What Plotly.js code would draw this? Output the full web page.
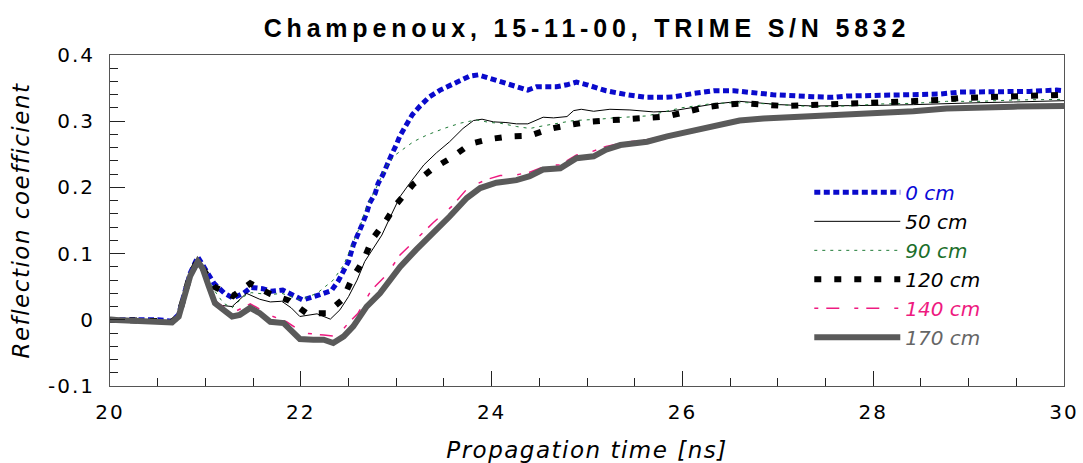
<!DOCTYPE html>
<html>
<head>
<meta charset="utf-8">
<script src="https://cdn.plot.ly/plotly-3.0.1.min.js"></script>
<style>
  html, body { margin: 0; padding: 0; background: #fff; }
  #chart { width: 1083px; height: 463px; }
  .gtitle { letter-spacing: 4.8px; }
  .xtitle, .ytitle { letter-spacing: 1.5px; }
  .xtick text, .ytick text { letter-spacing: 2px; }
</style>
</head>
<body>
<div id="chart"></div>
<script>
// ---- data ----
var seriesNames = ['0 cm', '50 cm', '90 cm', '120 cm', '140 cm', '170 cm'];

var t0 = [20, 20.3, 20.5, 20.65, 20.72, 20.78, 20.84, 20.92, 20.98, 21.09, 21.2, 21.29, 21.4, 21.48, 21.6, 21.69, 21.81, 21.9, 22.02, 22.2, 22.32, 22.39, 22.44, 22.5, 22.55, 22.6, 22.64, 22.69, 22.72, 22.78, 22.81, 22.86, 22.9, 22.95, 23.0, 23.04, 23.1, 23.17, 23.25, 23.35, 23.46, 23.55, 23.66, 23.77, 23.86, 23.97, 24.07, 24.17, 24.28, 24.38, 24.47, 24.59, 24.68, 24.79, 24.89, 25.0, 25.2, 25.42, 25.63, 25.82, 25.92, 26.12, 26.33, 26.54, 26.74, 26.95, 27.37, 27.58, 27.72, 28.07, 28.42, 28.7, 28.91, 29.3, 29.64, 29.92, 30];
var r0 = [0, 0.001, 0, -0.002, 0.008, 0.04, 0.07, 0.095, 0.08, 0.055, 0.040, 0.033, 0.040, 0.049, 0.047, 0.043, 0.045, 0.038, 0.030, 0.038, 0.044, 0.058, 0.073, 0.088, 0.113, 0.128, 0.143, 0.161, 0.176, 0.191, 0.206, 0.219, 0.234, 0.249, 0.264, 0.278, 0.293, 0.310, 0.323, 0.337, 0.347, 0.353, 0.360, 0.368, 0.370, 0.365, 0.360, 0.356, 0.350, 0.347, 0.352, 0.352, 0.352, 0.355, 0.359, 0.355, 0.346, 0.340, 0.336, 0.336, 0.337, 0.342, 0.346, 0.346, 0.343, 0.340, 0.337, 0.336, 0.338, 0.339, 0.339, 0.341, 0.344, 0.344, 0.345, 0.347, 0.346];

var t50 = [20, 20.3, 20.5, 20.65, 20.72, 20.78, 20.84, 20.92, 20.98, 21.08, 21.15, 21.28, 21.43, 21.57, 21.68, 21.8, 21.9, 21.99, 22.17, 22.31, 22.41, 22.5, 22.59, 22.67, 22.76, 22.85, 22.94, 23.04, 23.14, 23.29, 23.42, 23.56, 23.7, 23.81, 23.9, 24.02, 24.15, 24.26, 24.38, 24.47, 24.54, 24.65, 24.79, 24.86, 24.94, 25.07, 25.24, 25.45, 25.7, 25.87, 26.08, 26.33, 26.6, 26.74, 27.02, 27.37, 27.72, 28.07, 28.42, 28.77, 29.12, 29.47, 30];
var r50 = [0, 0, -0.002, -0.003, 0.006, 0.037, 0.068, 0.09, 0.075, 0.035, 0.022, 0.020, 0.040, 0.031, 0.027, 0.028, 0.018, 0.005, 0.009, 0.001, 0.015, 0.035, 0.060, 0.088, 0.108, 0.128, 0.156, 0.186, 0.206, 0.234, 0.252, 0.269, 0.289, 0.301, 0.303, 0.299, 0.298, 0.296, 0.296, 0.302, 0.306, 0.305, 0.307, 0.316, 0.318, 0.315, 0.318, 0.317, 0.314, 0.315, 0.320, 0.326, 0.330, 0.328, 0.325, 0.323, 0.323, 0.324, 0.325, 0.327, 0.328, 0.329, 0.331];

var t90 = [20, 20.3, 20.5, 20.65, 20.72, 20.78, 20.84, 20.92, 20.98, 21.09, 21.19, 21.28, 21.4, 21.48, 21.68, 21.8, 21.92, 21.99, 22.17, 22.34, 22.45, 22.53, 22.62, 22.69, 22.78, 22.87, 22.92, 22.99, 23.08, 23.18, 23.32, 23.5, 23.67, 23.84, 23.98, 24.09, 24.26, 24.4, 24.54, 24.68, 24.86, 25.13, 25.28, 25.63, 25.98, 26.33, 26.67, 27.02, 27.37, 27.72, 28.07, 28.42, 28.77, 29.12, 29.47, 30];
var r90 = [0, 0, -0.002, -0.003, 0.007, 0.038, 0.069, 0.092, 0.078, 0.045, 0.025, 0.018, 0.035, 0.041, 0.038, 0.040, 0.033, 0.030, 0.040, 0.060, 0.083, 0.111, 0.141, 0.171, 0.196, 0.224, 0.237, 0.249, 0.259, 0.269, 0.279, 0.289, 0.297, 0.302, 0.298, 0.297, 0.292, 0.289, 0.293, 0.297, 0.301, 0.303, 0.305, 0.308, 0.320, 0.327, 0.328, 0.325, 0.322, 0.323, 0.326, 0.327, 0.330, 0.330, 0.332, 0.333];

var t120 = [20, 20.3, 20.5, 20.65, 20.72, 20.78, 20.84, 20.92, 20.98, 21.09, 21.29, 21.47, 21.68, 21.88, 22.06, 22.27, 22.44, 22.53, 22.66, 22.75, 22.88, 23.01, 23.18, 23.38, 23.58, 23.78, 23.98, 24.19, 24.4, 24.6, 24.8, 25.01, 25.2, 25.42, 25.63, 25.83, 26.04, 26.24, 26.45, 26.66, 26.85, 27.06, 27.27, 27.48, 27.69, 27.88, 28.09, 28.3, 28.5, 28.7, 28.91, 29.12, 29.34, 29.54, 29.73, 30];
var r120 = [0, 0, -0.002, -0.003, 0.006, 0.037, 0.068, 0.09, 0.076, 0.050, 0.036, 0.055, 0.039, 0.029, 0.010, 0.010, 0.031, 0.060, 0.091, 0.122, 0.147, 0.176, 0.205, 0.228, 0.245, 0.266, 0.273, 0.277, 0.278, 0.288, 0.294, 0.299, 0.301, 0.302, 0.305, 0.307, 0.314, 0.321, 0.325, 0.327, 0.325, 0.323, 0.324, 0.325, 0.327, 0.327, 0.329, 0.329, 0.331, 0.332, 0.335, 0.336, 0.338, 0.339, 0.338, 0.340];

var t140 = [20, 20.3, 20.5, 20.65, 20.72, 20.78, 20.84, 20.92, 20.97, 21.03, 21.1, 21.19, 21.29, 21.47, 21.64, 21.71, 21.85, 22.03, 22.24, 22.38, 22.48, 22.6, 22.74, 22.9, 23.04, 23.21, 23.39, 23.58, 23.75, 23.95, 24.09, 24.26, 24.4, 24.58, 24.72, 24.89, 25.03, 25.2, 25.45, 25.63, 25.84, 26.08, 26.26, 26.39, 26.6, 26.85, 27.2, 27.58, 28.07, 28.42, 28.77, 29.12, 29.47, 30];
var r140 = [0, 0, -0.003, -0.004, 0.005, 0.035, 0.066, 0.089, 0.078, 0.053, 0.028, 0.020, 0.011, 0.024, 0.010, 0.005, -0.003, -0.020, -0.023, -0.025, -0.008, 0.010, 0.045, 0.068, 0.098, 0.122, 0.147, 0.171, 0.199, 0.212, 0.218, 0.219, 0.223, 0.233, 0.234, 0.249, 0.253, 0.262, 0.269, 0.272, 0.279, 0.286, 0.292, 0.297, 0.303, 0.306, 0.308, 0.310, 0.313, 0.317, 0.321, 0.323, 0.324, 0.325];

var t170 = [20, 20.2, 20.5, 20.65, 20.72, 20.78, 20.84, 20.92, 20.97, 21.03, 21.1, 21.19, 21.28, 21.36, 21.47, 21.57, 21.68, 21.82, 21.9, 21.99, 22.13, 22.24, 22.34, 22.45, 22.55, 22.69, 22.83, 23.04, 23.21, 23.39, 23.56, 23.74, 23.88, 24.05, 24.26, 24.4, 24.54, 24.72, 24.89, 25.07, 25.2, 25.35, 25.63, 25.84, 26.08, 26.26, 26.39, 26.6, 26.85, 27.2, 27.58, 28.07, 28.42, 28.77, 29.12, 29.47, 30];
var r170 = [0, -0.001, -0.004, -0.004, 0.005, 0.035, 0.066, 0.088, 0.078, 0.053, 0.025, 0.015, 0.005, 0.0075, 0.018, 0.010, -0.003, -0.005, -0.015, -0.029, -0.030, -0.030, -0.035, -0.025, -0.010, 0.020, 0.040, 0.080, 0.106, 0.131, 0.156, 0.184, 0.199, 0.207, 0.211, 0.217, 0.227, 0.229, 0.244, 0.247, 0.257, 0.264, 0.269, 0.277, 0.284, 0.290, 0.295, 0.301, 0.304, 0.306, 0.308, 0.311, 0.315, 0.319, 0.321, 0.322, 0.323];

var yTickVals = [-0.1, 0, 0.1, 0.2, 0.3, 0.4];
var yTickText = ['-0.1', '0', '0.1', '0.2', '0.3', '0.4'];

// ---- styles ----
var FONT = 'Liberation Sans, Arial, Helvetica, sans-serif';
var WIDE = 'DejaVu Sans, Verdana, sans-serif';
var styles = [
  {color: '#0a0acc', text: '#0a0ad8', width: 5,   dash: '6px,3.5px'},
  {color: '#000000', text: '#000000', width: 1,   dash: 'solid'},
  {color: '#1e7a35', text: '#1a6e2a', width: 1,   dash: '3px,5px'},
  {color: '#000000', text: '#000000', width: 6,   dash: '7px,13px'},
  {color: '#ee1a80', text: '#ee1a80', width: 1.5, dash: '4px,8px,13px,15px'},
  {color: '#5a5a5a', text: '#666666', width: 6,   dash: 'solid'}
];
var xs = [t0, t50, t90, t120, t140, t170];
var ys = [r0, r50, r90, r120, r140, r170];

var traces = seriesNames.map(function (n, i) {
  return {
    type: 'scatter', mode: 'lines',
    x: xs[i], y: ys[i],
    name: '<span style="color:' + styles[i].text + '">' + n + '</span>',
    line: {color: styles[i].color, width: styles[i].width, dash: styles[i].dash, shape: 'linear'},
    hoverinfo: 'skip'
  };
});

var layout = {
  width: 1083, height: 463,
  margin: {l: 110, r: 19, t: 55, b: 77, pad: 0},
  paper_bgcolor: '#ffffff', plot_bgcolor: '#ffffff',
  font: {family: WIDE, color: '#000000', size: 20},
  title: {
    text: 'Champenoux, 15-11-00, TRIME S/N 5832',
    font: {family: FONT, size: 25, weight: 'bold', color: '#000000'},
    xref: 'paper', x: 0.5, xanchor: 'center',
    yref: 'container', y: 1 - 28 / 463, yanchor: 'middle'
  },
  xaxis: {
    range: [20, 30], dtick: 2, tick0: 20,
    ticks: 'inside', ticklen: 15, tickwidth: 1, tickcolor: '#222',
    showline: true, linecolor: '#555', linewidth: 1, mirror: true,
    showgrid: false, zeroline: false,
    tickfont: {family: WIDE, size: 20, color: '#000'},
    ticklabelstandoff: 8,
    minor: {ticks: 'inside', ticklen: 8, dtick: 0.5, tick0: 20, tickcolor: '#222', tickwidth: 1, showgrid: false},
    title: {text: 'Propagation time [ns]', font: {family: WIDE, size: 23, style: 'italic', color: '#000'}}
  },
  yaxis: {
    range: [-0.1, 0.4], tickmode: 'array', tickvals: yTickVals, ticktext: yTickText,
    ticks: 'inside', ticklen: 15, tickwidth: 1, tickcolor: '#222',
    showline: true, linecolor: '#555', linewidth: 1, mirror: true,
    showgrid: false, zeroline: false,
    tickfont: {family: WIDE, size: 20, color: '#000'},
    ticklabelstandoff: 10,
    automargin: true,
    minor: {ticks: 'inside', ticklen: 8, dtick: 0.02, tick0: 0, tickcolor: '#222', tickwidth: 1, showgrid: false},
    title: {text: 'Reflection coefficient', standoff: 11, font: {family: WIDE, size: 23, style: 'italic', color: '#000'}}
  },
  showlegend: true,
  legend: {
    x: 0.733, y: 0.644, xanchor: 'left', yanchor: 'top',
    xref: 'paper', yref: 'paper',
    bgcolor: 'rgba(0,0,0,0)', borderwidth: 0,
    itemwidth: 86,
    font: {family: WIDE, size: 20, style: 'italic', color: '#000'},
    traceorder: 'normal'
  }
};

Plotly.newPlot('chart', traces, layout, {staticPlot: true, displayModeBar: false});
</script>
</body>
</html>
